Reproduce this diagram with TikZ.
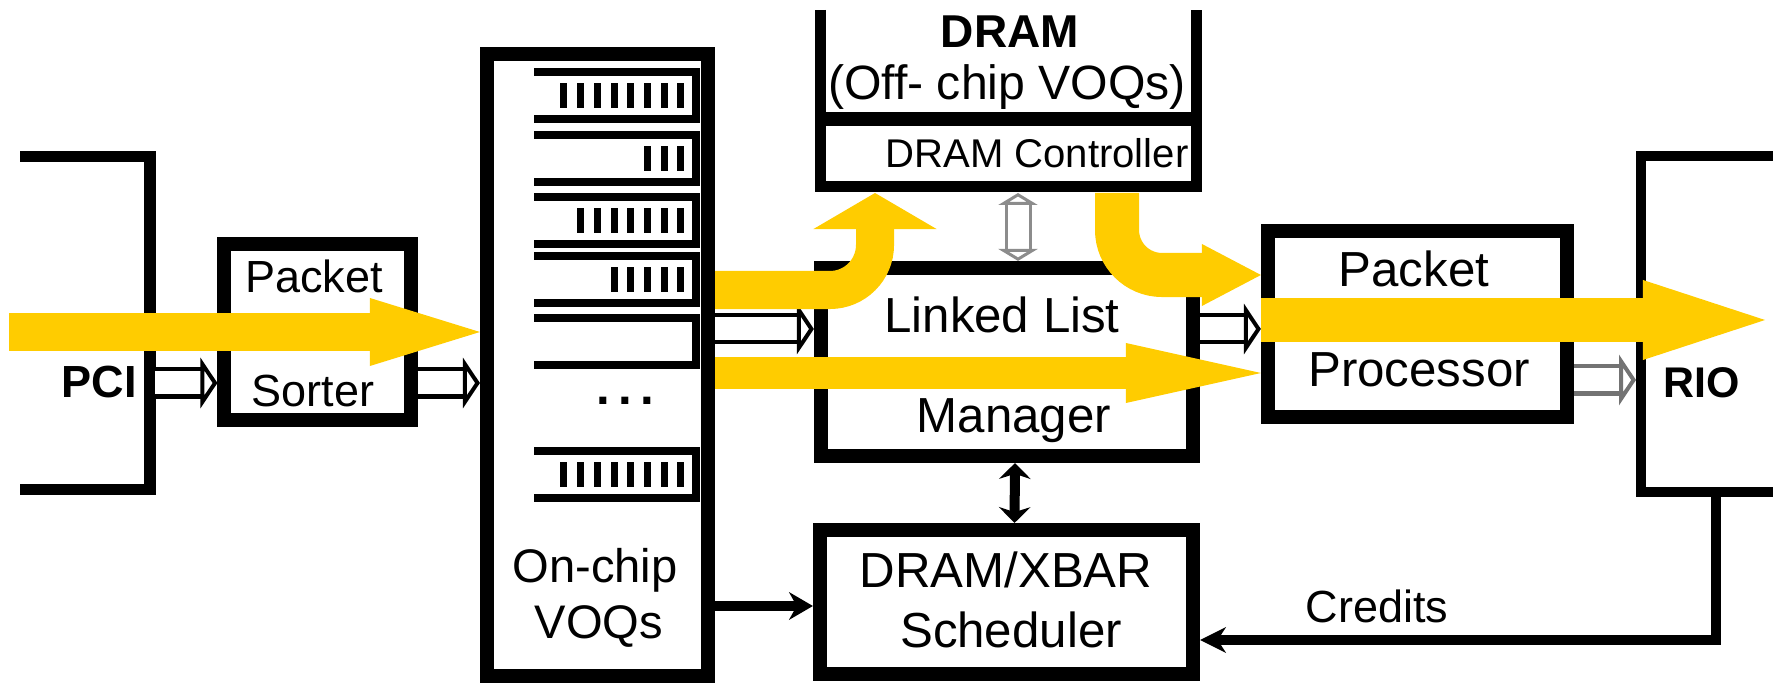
\documentclass[tikz,border=0pt]{standalone}
\usepackage{fontspec}
\setmainfont{Liberation Sans}
\usetikzlibrary{arrows.meta}
\definecolor{flowyellow}{HTML}{FFCC00}
\tikzset{
  box/.style={draw, line width=0.14cm, inner sep=0pt},
  lbl/.style={anchor=base, inner sep=0pt, font=\fontsize{#1}{#1}\selectfont},
  flow/.style={draw=flowyellow, line width=#1},
  hollow/.style={double, double distance=0.23cm, line width=0.04cm,
    -{Triangle[open, length=0.17cm, width=0.5cm, line width=0.04cm]}},
  link/.style={line width=0.1cm, -{Stealth[length=0.24cm, width=0.28cm, line width=0pt]}},
}

\begin{document}
\begin{tikzpicture}[x=0.01cm, y=-0.01cm]
  \useasboundingbox (0,0) rectangle (1773,683);

  % blocks
  \node[box, minimum width=1.86cm, minimum height=1.75cm] (sorter) at (317.5,332) {};
  \node[box, minimum width=2.21cm, minimum height=6.22cm] (voq) at (597.5,365) {};
  \node[box, minimum width=3.72cm, minimum height=1.88cm] (llm) at (1007,362) {};
  \node[box, minimum width=3.73cm, minimum height=1.44cm] (sched) at (1006.5,602) {};
  \node[box, minimum width=2.99cm, minimum height=1.86cm] (pproc) at (1417.5,324) {};
  \draw[line width=0.11cm] (20,157) -- (150,157) -- (150,490) -- (20,490);
  \draw[line width=0.1cm] (1790,156) -- (1641,156) -- (1641,492) -- (1790,492);
  \draw[line width=0.11cm] (820,10) -- (820,187) -- (1196,187) -- (1196,10);
  \draw[line width=0.14cm] (820,119) -- (1196,119);

  % queues
  \foreach \qy/\qn in {72/8,135/3,197/7,256/5,318/0,451/8}{
    \draw[line width=0.08cm] (534,\qy) -- (696,\qy) -- (696,\qy+47) -- (534,\qy+47);
    \ifnum\qn>0
      \foreach \k in {1,...,\qn}
        \fill (694-16.7*\k,\qy+11) rectangle ++(7,25);
    \fi
  }

  \coordinate (pci-in) at (9,332);
  \coordinate (pci-out) at (155,383);
  \coordinate (dram-in) at (875,193);
  \coordinate (dram-mid) at (1018,193);
  \coordinate (dram-out) at (1117,193);
  \coordinate (rio-in) at (1636,380);
  \coordinate (rio-out) at (1716,497);
  \coordinate (rio-end) at (1765,320);
  \coordinate (lane-up) at (0,290);
  \coordinate (lane-mid) at (0,329);
  \coordinate (lane-low) at (0,373);
  \coordinate (lane-pp) at (0,275);
  \coordinate (lane-rio) at (0,320);
  \coordinate (lane-sch) at (0,606);
  \coordinate (lane-cr) at (0,640);

  % connectors
  \draw[hollow] (pci-out) -- (pci-out -| sorter.west);
  \draw[hollow] (pci-out -| sorter.east) -- (pci-out -| voq.west);
  \draw[hollow] (lane-mid -| voq.east) -- (lane-mid -| llm.west);
  \draw[hollow] (lane-mid -| llm.east) -- (lane-mid -| pproc.west);
  \draw[hollow, black!55] (rio-in -| pproc.east) -- (rio-in);
  \draw[hollow, black!45, double distance=0.21cm, line width=0.03cm,
    {Triangle[open, length=0.12cm, width=0.39cm, line width=0.03cm]}-{Triangle[open, length=0.12cm, width=0.39cm, line width=0.03cm]}]
    (dram-mid) -- (dram-mid |- llm.north);
  \draw[link, {Stealth[length=0.16cm, width=0.32cm, line width=0pt]}-{Stealth[length=0.16cm, width=0.32cm, line width=0pt]}] ([xshift=0.08cm]llm.south) -- ([xshift=0.08cm]sched.north);
  \draw[link] (lane-sch -| voq.east) -- (lane-sch -| sched.west);
  \draw[link, -{Stealth[length=0.26cm, width=0.26cm, line width=0pt]}] (rio-out) |- (lane-cr -| sched.east);

  % traffic
  \draw[flow=0.38cm, -{Triangle[length=1.1cm, width=0.68cm, line width=0pt]}] (pci-in) -- (pci-in -| voq.west);
  \draw[flow=0.38cm, rounded corners=0.45cm, -{Triangle[length=0.36cm, width=1.23cm, line width=0pt]}] (lane-up -| voq.east) -| (dram-in);
  \draw[flow=0.32cm, -{Triangle[length=1.35cm, width=0.6cm, line width=0pt]}] (lane-low -| voq.east) -- (lane-low -| pproc.west);
  \draw[flow=0.44cm, rounded corners=0.45cm, -{Triangle[length=0.59cm, width=0.62cm, line width=0pt]}] (dram-out) |- (lane-pp -| pproc.west);
  \draw[flow=0.43cm, -{Triangle[length=1.22cm, width=0.8cm, line width=0pt]}] (lane-rio -| pproc.west) -- (rio-end);

  % labels
  \node[lbl=12.8pt] (pci-t) at (99,398) {\bfseries PCI};
  \node[lbl=12.8pt] (sorter-t1) at (314,293) {Packet};
  \node[lbl=12.8pt] (sorter-t2) at (313,407) {Sorter};
  \node[lbl=13.4pt] (voq-t1) at (595,583) {On-chip};
  \node[lbl=13.4pt] (voq-t2) at (599,639) {VOQs};
  \node[lbl=14pt] (dots) at (625,405) {\bfseries .\,.\,.};
  \node[lbl=13.1pt] (dram-t1) at (1010,48) {\bfseries DRAM};
  \node[lbl=13.7pt] (dram-t2) at (1007,100) {(Off- chip VOQs)};
  \node[lbl=11.4pt] (dram-t3) at (1037,168) {DRAM Controller};
  \node[lbl=14pt] (llm-t1) at (1002,333) {Linked List};
  \node[lbl=14pt] (llm-t2) at (1014,433) {Manager};
  \node[lbl=14pt] (sched-t1) at (1006,588) {DRAM/XBAR};
  \node[lbl=14pt] (sched-t2) at (1011,648) {Scheduler};
  \node[lbl=14pt] (pproc-t1) at (1414,287) {Packet};
  \node[lbl=14pt] (pproc-t2) at (1419,387) {Processor};
  \node[lbl=12.2pt] (rio-t) at (1702,398) {\bfseries RIO};
  \node[lbl=12.8pt] (credits-t) at (1377,623) {Credits};
\end{tikzpicture}
\end{document}
